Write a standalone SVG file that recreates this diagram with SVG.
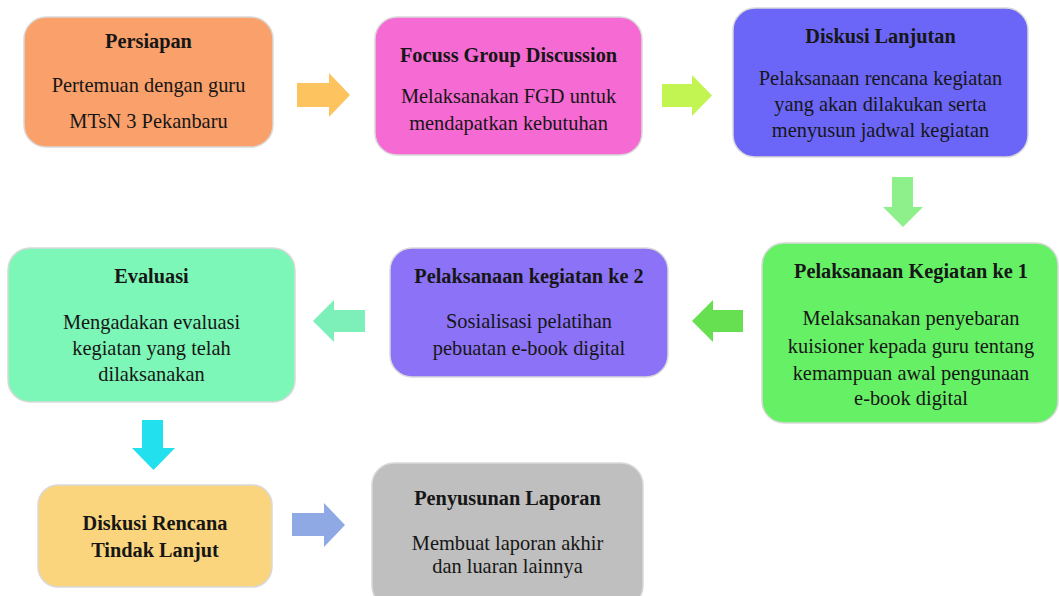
<svg xmlns="http://www.w3.org/2000/svg" width="1059" height="596" viewBox="0 0 1059 596">
<style>
.box{stroke:#d9d9d9;stroke-width:1.5}
text{font-family:"Liberation Serif","Times New Roman","DejaVu Serif",serif;fill:#161616;text-anchor:middle}
.t{font-weight:bold;font-size:20.3px}
.b{font-size:20.4px}
</style>
<rect width="1059" height="596" fill="#ffffff"/>
<g id="n1"><rect class="box" x="24" y="17" width="249" height="130" rx="22" fill="#f9a06b"/>
<text class="t" x="148.5" y="48">Persiapan</text>
<text class="b" x="148.5" y="92">Pertemuan dengan guru</text>
<text class="b" x="148.5" y="128">MTsN 3 Pekanbaru</text></g>
<g id="n2"><rect class="box" x="375" y="17" width="267" height="138" rx="22" fill="#f66ad3"/>
<text class="t" x="508.5" y="62">Focuss Group Discussion</text>
<text class="b" x="508.5" y="103">Melaksanakan FGD untuk</text>
<text class="b" x="508.5" y="130">mendapatkan kebutuhan</text></g>
<g id="n3"><rect class="box" x="733" y="8" width="295" height="149" rx="22" fill="#6b66f7"/>
<text class="t" x="880.5" y="43">Diskusi Lanjutan</text>
<text class="b" x="880.5" y="85">Pelaksanaan rencana kegiatan</text>
<text class="b" x="880.5" y="111">yang akan dilakukan serta</text>
<text class="b" x="880.5" y="137">menyusun jadwal kegiatan</text></g>
<g id="n4"><rect class="box" x="762" y="243" width="296" height="180" rx="22" fill="#66f066"/>
<text class="t" x="911" y="278">Pelaksanaan Kegiatan ke 1</text>
<text class="b" x="911" y="325">Melaksanakan penyebaran</text>
<text class="b" x="911" y="353">kuisioner kepada guru tentang</text>
<text class="b" x="911" y="380">kemampuan awal pengunaan</text>
<text class="b" x="911" y="405">e-book digital</text></g>
<g id="n5"><rect class="box" x="390" y="248" width="278" height="129" rx="22" fill="#8c72f6"/>
<text class="t" x="529" y="283">Pelaksanaan kegiatan ke 2</text>
<text class="b" x="529" y="328">Sosialisasi pelatihan</text>
<text class="b" x="529" y="355">pebuatan e-book digital</text></g>
<g id="n6"><rect class="box" x="8" y="248" width="287" height="154" rx="22" fill="#7df7b8"/>
<text class="t" x="151.5" y="283">Evaluasi</text>
<text class="b" x="151.5" y="329">Mengadakan evaluasi</text>
<text class="b" x="151.5" y="355">kegiatan yang telah</text>
<text class="b" x="151.5" y="381">dilaksanakan</text></g>
<g id="n7"><rect class="box" x="38" y="485" width="234" height="102" rx="20" fill="#fad57d"/>
<text class="t" x="155" y="530">Diskusi Rencana</text>
<text class="t" x="155" y="557">Tindak Lanjut</text></g>
<g id="n8"><rect class="box" x="372" y="463" width="271" height="145" rx="22" fill="#bfbfbf"/>
<text class="t" x="507.5" y="505">Penyusunan Laporan</text>
<text class="b" x="507.5" y="550">Membuat laporan akhir</text>
<text class="b" x="507.5" y="573">dan luaran lainnya</text></g>
<g id="connectors">
<polygon points="297,83 329,83 329,73 350,95 329,117 329,107 297,107" fill="#fdc35e"/>
<polygon points="662,84 692,84 692,75 712,95.5 692,116 692,107 662,107" fill="#c2f552"/>
<polygon points="892,177 913,177 913,207 923,207 903,227 883,207 892,207" fill="#8ef08a"/>
<polygon points="743,310 713,310 713,300 692,321 713,342 713,332 743,332" fill="#66e050"/>
<polygon points="365,310 334,310 334,300 313,321 334,342 334,332 365,332" fill="#7cf0b8"/>
<polygon points="142,420 163,420 163,448 175,448 153.5,470 132,448 142,448" fill="#22e0ee"/>
<polygon points="292,513 324,513 324,503 345,525 324,547 324,536 292,536" fill="#8ea9e3"/>
</g>
</svg>
